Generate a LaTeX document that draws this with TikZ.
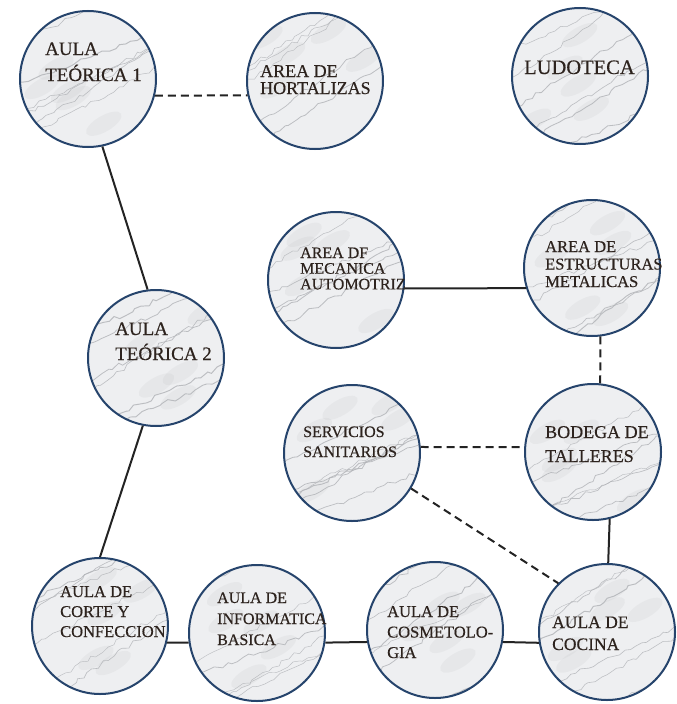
\documentclass[tikz,border=0pt]{standalone}
\usepackage{fontspec}
\setmainfont{Liberation Serif}[FakeBold=0.4]
\usetikzlibrary{calc,decorations.pathmorphing}
\definecolor{navy}{RGB}{38,68,108}
\definecolor{marble}{RGB}{238,239,241}
\definecolor{vein}{RGB}{176,178,182}
\definecolor{ink}{RGB}{45,35,30}
\definecolor{wire}{RGB}{35,35,35}
\newcommand{\blk}[3]{{\fontsize{#1}{#2}\selectfont\begin{tabular}[t]{@{}l@{}}#3\end{tabular}}}
\tikzset{
 room/.style={circle, draw=navy, line width=2pt, fill=marble, minimum size=136pt, inner sep=0pt,
   path picture={
     \foreach \k in {1,...,5}{
       \pgfmathsetmacro{\px}{rnd*100-50}
       \pgfmathsetmacro{\py}{rnd*100-50}
       \fill[vein, opacity=0.12] ($(path picture bounding box.center)+(\px,\py)$) ellipse [x radius=20pt, y radius=8pt, rotate=30];
     }
     \foreach \k in {1,...,6}{
       \pgfmathsetmacro{\oa}{rnd*150-75}
       \pgfmathsetmacro{\ob}{rnd*50-25}
       \pgfmathsetmacro{\lw}{0.4+rnd*0.6}
       \draw[vein, opacity=0.8, line width=\lw pt, decorate, decoration={random steps, segment length=6pt, amplitude=2.2pt}]
         ($(path picture bounding box.center)+(-75,\oa+40)$) -- ($(path picture bounding box.center)+(75,\oa-40+\ob)$);
     }
   }},
 txt/.style={anchor=base west, inner sep=0pt, text=ink},
 link/.style={draw=wire, line width=2pt},
 dlink/.style={link, dash pattern=on 8pt off 5pt},
}
\begin{document}
\begin{tikzpicture}[x=1pt,y=-1pt]
\pgfmathsetseed{11}
\useasboundingbox (0,0) rectangle (677,704);
% rooms
\node[room] (t1) at (88,79) {};
\node[room] (hort) at (315,81) {};
\node[room] (ludo) at (580,76) {};
\node[room] (mec) at (336,280) {};
\node[room] (est) at (592,268) {};
\node[room] (t2) at (156,358) {};
\node[room] (serv) at (352,453) {};
\node[room] (bod) at (593,452) {};
\node[room] (corte) at (100,626) {};
\node[room] (info) at (257,633) {};
\node[room] (cosm) at (435,630) {};
\node[room] (coc) at (607,632) {};
% labels
\node[txt] (t1l) at (45,55) {\blk{19}{26}{AULA\\TEÓRICA 1}};
\node[txt] (hortl) at (260,77) {\blk{18}{17}{AREA DE\\HORTALIZAS}};
\node[txt] (ludol) at (524,74) {\blk{20.5}{24}{LUDOTECA}};
\node[txt] (mecl) at (300,258) {\blk{16}{15.7}{AREA DF\\MECANICA\\AUTOMOTRIZ}};
\node[txt] (estl) at (545,252) {\blk{16.5}{17.5}{AREA DE\\ESTRUCTURAS\\METALICAS}};
\node[txt] (servl) at (303,437) {\blk{16}{20}{SERVICIOS\\SANITARIOS}};
\node[txt] (bodl) at (545,438) {\blk{18}{24}{BODEGA DE\\TALLERES}};
\node[txt] (t2l) at (115,335) {\blk{19}{25}{AULA\\TEÓRICA 2}};
\node[txt] (cortel) at (60,597) {\blk{16.5}{20}{AULA DE\\CORTE Y\\CONFECCION}};
\node[txt] (infol) at (217,603) {\blk{16}{21}{AULA DE\\INFORMATICA\\BASICA}};
\node[txt] (cosml) at (387,617) {\blk{16.5}{20.5}{AULA DE\\COSMETOLO-\\GIA}};
\node[txt] (cocl) at (552,628) {\blk{17.5}{22}{AULA DE\\COCINA}};
% connectors
\draw[dlink] (t1.-14) -- (hort.192);
\draw[link] (t1.-78) -- (t2.97);
\draw[link] (t2.259) -- (corte.90);
\draw[link] (mec.-7) -- (est.197);
\draw[dlink] (est.-83) -- (bod.84);
\draw[dlink] (serv.5) -- (bod.176);
\draw[dlink] (serv.-31) -- (coc.135);
\draw[link] (bod.-76) -- (coc.89);
\draw[link] (corte.-14.5) -- (info.188.3);
\draw[link] (info.-8.3) -- (cosm.190.7);
\draw[link] (cosm.-10.7) -- (coc.189);
\end{tikzpicture}
\end{document}
